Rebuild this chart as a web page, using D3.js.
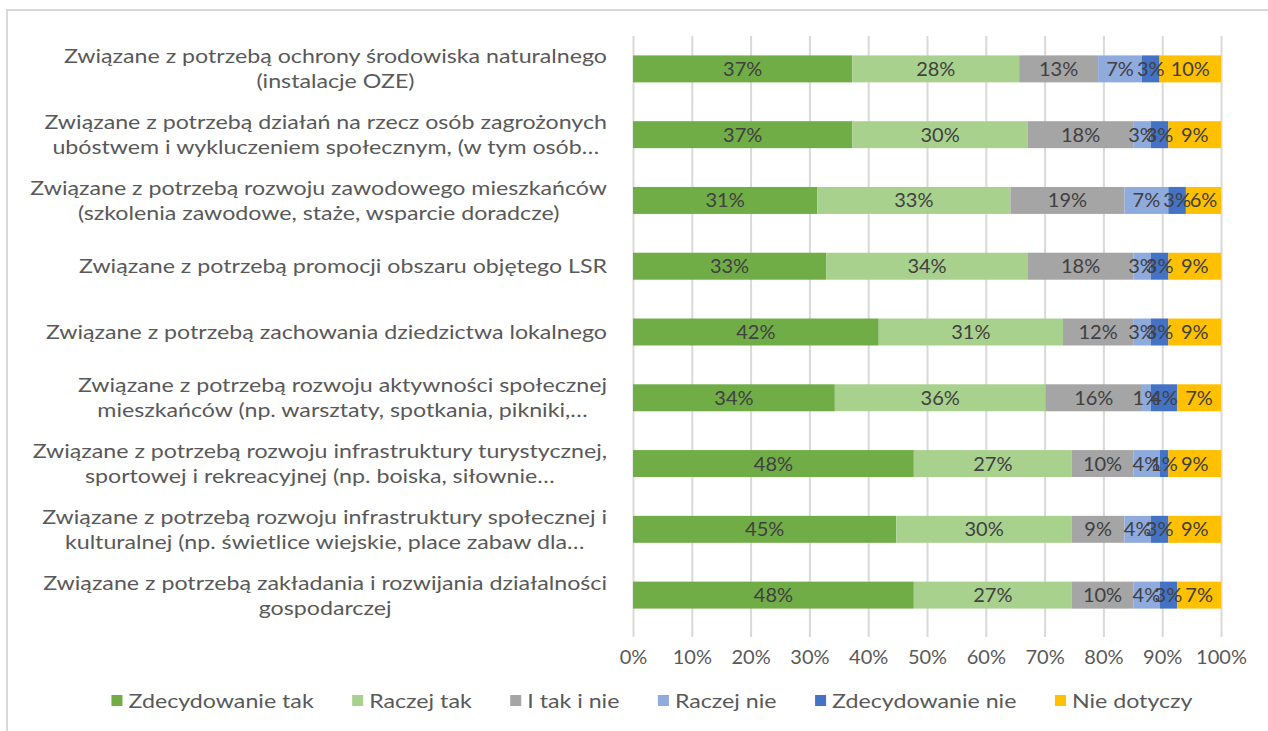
<!DOCTYPE html>
<html>
<head>
<meta charset="utf-8">
<script src="https://cdn.jsdelivr.net/npm/d3@7"></script>
<style>
  html, body { margin: 0; padding: 0; background: #ffffff; }
  svg { display: block; }
  text { font-family: Lato, "Open Sans", sans-serif; }
</style>
</head>
<body>
<svg id="chart" width="1268" height="731"></svg>
<script>
// ---------- data ----------
const categories = [
  "Związane z potrzebą ochrony środowiska naturalnego\n(instalacje OZE)",
  "Związane z potrzebą działań na rzecz osób zagrożonych\nubóstwem i wykluczeniem społecznym, (w tym osób…",
  "Związane z potrzebą rozwoju zawodowego mieszkańców\n(szkolenia zawodowe, staże, wsparcie doradcze)",
  "Związane z potrzebą promocji obszaru objętego LSR",
  "Związane z potrzebą zachowania dziedzictwa lokalnego",
  "Związane z potrzebą rozwoju aktywności społecznej\nmieszkańców (np. warsztaty, spotkania, pikniki,…",
  "Związane z potrzebą rozwoju infrastruktury turystycznej,\nsportowej i rekreacyjnej (np. boiska, siłownie…",
  "Związane z potrzebą rozwoju infrastruktury społecznej i\nkulturalnej (np. świetlice wiejskie, place zabaw dla…",
  "Związane z potrzebą zakładania i rozwijania działalności\ngospodarczej"
];
const seriesNames = ["Zdecydowanie tak", "Raczej tak", "I tak i nie", "Raczej nie", "Zdecydowanie nie", "Nie dotyczy"];
// values in percent, same order as categories (top to bottom)
const zdecydowanieTak = [37.31, 37.31, 31.34, 32.84, 41.79, 34.33, 47.76, 44.78, 47.76];
const raczejTak       = [28.36, 29.85, 32.84, 34.33, 31.34, 35.82, 26.87, 29.85, 26.87];
const iTakINie        = [13.43, 17.91, 19.40, 17.91, 11.94, 16.42, 10.45,  8.96, 10.45];
const raczejNie       = [ 7.46,  2.99,  7.46,  2.99,  2.99,  1.49,  4.48,  4.48,  4.48];
const zdecydowanieNie = [ 2.99,  2.99,  2.99,  2.99,  2.99,  4.48,  1.49,  2.99,  2.99];
const nieDotyczy      = [10.45,  8.96,  5.97,  8.96,  8.96,  7.46,  8.96,  8.96,  7.46];
const tickValues = [0, 10, 20, 30, 40, 50, 60, 70, 80, 90, 100];

const seriesValues = [zdecydowanieTak, raczejTak, iTakINie, raczejNie, zdecydowanieNie, nieDotyczy];
const colors = ["#70AD47", "#A9D18E", "#A5A5A5", "#8FAADC", "#4472C4", "#FFC000"];

// ---------- layout ----------
const svg = d3.select("#chart");
const plot = { left: 633, right: 1221, top: 36, bottom: 628 };
const labelRight = 607;
const stretch = 1.16;   // horizontal stretch of category / legend text

svg.append("rect")
  .attr("x", 7).attr("y", 10).attr("width", 1280).attr("height", 740)
  .attr("fill", "#fff").attr("stroke", "#d9d9d9").attr("stroke-width", 2);

const x = d3.scaleLinear().domain([0, 100]).range([plot.left, plot.right]);
const y = d3.scaleBand()
  .domain(categories.map((d, i) => i))
  .range([plot.top, plot.bottom])
  .paddingInner(0.59).paddingOuter(0.295);

const rows = categories.map((c, i) => {
  const r = { idx: i };
  seriesNames.forEach((s, k) => r[s] = seriesValues[k][i]);
  return r;
});
const stack = d3.stack().keys(seriesNames)(rows);

// gridlines
const grid = svg.append("g")
  .attr("transform", `translate(0,${plot.top})`)
  .call(d3.axisBottom(x).tickValues(tickValues).tickSize(637 - plot.top).tickFormat(""));
grid.select(".domain").remove();
grid.selectAll("line").attr("stroke", "#d9d9d9").attr("stroke-width", 2);

// bars
const layer = svg.append("g").selectAll("g").data(stack).join("g")
  .attr("fill", (d, i) => colors[i]);
layer.selectAll("rect").data(d => d).join("rect")
  .attr("x", d => x(d[0]))
  .attr("y", d => y(d.data.idx))
  .attr("width", d => x(d[1]) - x(d[0]))
  .attr("height", y.bandwidth());

// data labels
const fmt = v => Math.round(v) + "%";
const lab = svg.append("g");
stack.forEach(s => {
  lab.selectAll(null).data(s).join("text")
    .attr("x", d => (x(d[0]) + x(d[1])) / 2)
    .attr("y", d => y(d.data.idx) + y.bandwidth() / 2)
    .attr("dy", "0.35em")
    .attr("text-anchor", "middle")
    .attr("font-size", 20)
    .attr("fill", "#404040")
    .text(d => fmt(d[1] - d[0]));
});

// x axis labels
const xa = svg.append("g")
  .attr("transform", `translate(0,647)`)
  .call(d3.axisBottom(x).tickValues(tickValues).tickSize(0).tickFormat(d => d + "%"));
xa.select(".domain").remove();
xa.selectAll("text").attr("font-size", 20).attr("fill", "#595959")
  .attr("font-family", "Lato, sans-serif");

// category labels
const catG = svg.append("g");
categories.forEach((c, i) => {
  const lines = c.split("\n");
  const cy = y(i) + y.bandwidth() / 2;
  const g = catG.append("g");
  const inner = g.append("g").attr("transform", `scale(${stretch},1)`);
  const lh = 25;
  const texts = lines.map((ln, j) => inner.append("text")
    .attr("x", 0)
    .attr("y", (j - (lines.length - 1) / 2) * lh)
    .attr("dy", "0.35em")
    .attr("text-anchor", "middle")
    .attr("font-size", 20)
    .attr("fill", "#595959")
    .text(ln));
  const w = d3.max(texts, t => t.node().getComputedTextLength()) * stretch;
  g.attr("transform", `translate(${labelRight - w / 2},${cy})`);
});

// legend
const leg = svg.append("g");
const items = seriesNames.map((s, i) => {
  const g = leg.append("g");
  g.append("rect").attr("x", 0).attr("y", -6).attr("width", 11).attr("height", 11).attr("fill", colors[i]);
  const t = g.append("text").attr("dy", "0.35em")
    .attr("transform", `translate(17,0) scale(${stretch},1)`)
    .attr("font-size", 20).attr("fill", "#595959").text(s);
  return { g, w: 17 + t.node().getComputedTextLength() * stretch };
});
const gap = 38.5;
const total = d3.sum(items, d => d.w) + gap * (items.length - 1);
let cx = 652 - total / 2;
items.forEach(it => { it.g.attr("transform", `translate(${cx},701)`); cx += it.w + gap; });
</script>
</body>
</html>
